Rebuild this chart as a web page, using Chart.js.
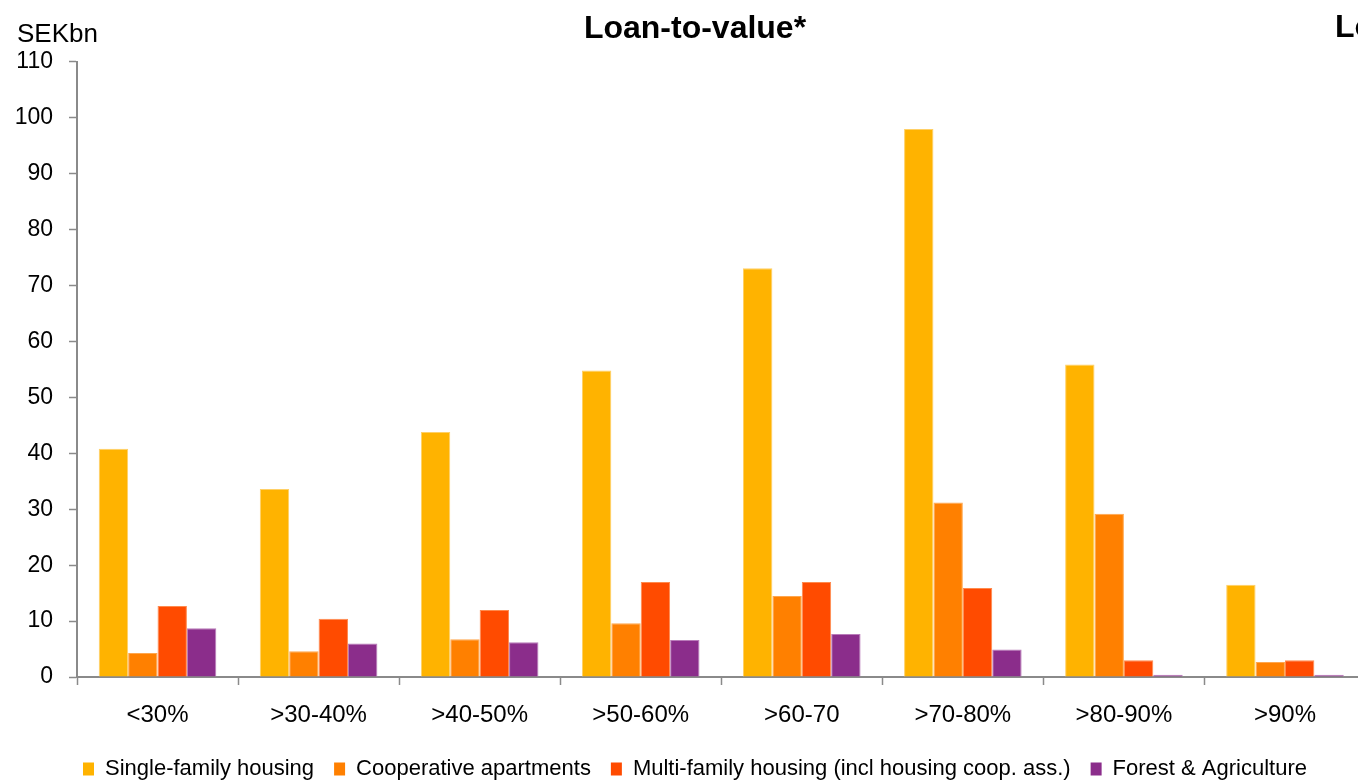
<!DOCTYPE html>
<html>
<head>
<meta charset="utf-8">
<title>Loan-to-value</title>
<script src="https://cdn.jsdelivr.net/npm/chart.js@4"></script>
<style>
  html, body { margin: 0; padding: 0; background: #fff; overflow: hidden; }
  #wrap { position: relative; width: 1390px; height: 781px; }
</style>
</head>
<body>
<div id="wrap"><canvas id="c"></canvas></div>
<script>
// LTV buckets and lending volumes (SEK bn) per segment
const categories = ['<30%', '>30-40%', '>40-50%', '>50-60%', '>60-70', '>70-80%', '>80-90%', '>90%'];
const singleFamily = [40.8, 33.6, 43.8, 54.8, 73.1, 98.0, 55.9, 16.5];
const cooperative  = [4.3, 4.6, 6.75, 9.6, 14.5, 31.2, 29.2, 2.7];
const multiFamily  = [12.7, 10.4, 12.0, 17.0, 17.0, 15.9, 3.0, 3.0];
const forestAgri   = [8.7, 6.0, 6.2, 6.6, 7.7, 4.9, 0.4, 0.4];
const seriesNames  = ['Single-family housing', 'Cooperative apartments',
                      'Multi-family housing (incl housing coop. ass.)', 'Forest & Agriculture'];
const seriesColors = ['#FFB300', '#FF8000', '#FF4B00', '#8B2D8B'];
const seriesEdges  = ['#FFD066', '#FFA64D', '#FF8A4D', '#B97BB9'];
const yTicks = [0, 10, 20, 30, 40, 50, 60, 70, 80, 90, 100, 110];

const FONT = "'Liberation Sans', Arial, sans-serif";
const AXIS_GREY = '#8a8a8a';

// Unit caption above the value axis and the neighbouring panel's heading
const captions = {
  id: 'captions',
  afterDraw(chart) {
    const ctx = chart.ctx;
    ctx.save();
    ctx.fillStyle = '#000';
    ctx.textBaseline = 'middle';
    ctx.textAlign = 'left';
    ctx.font = '26px ' + FONT;
    ctx.fillText('SEKbn', 17, 35);
    ctx.font = 'bold 32px ' + FONT;
    ctx.fillText('Loan-to-value', 1335, 28.5);
    ctx.restore();
  }
};

const series = [singleFamily, cooperative, multiFamily, forestAgri];

new Chart(document.getElementById('c'), {
  type: 'bar',
  data: {
    labels: categories,
    datasets: series.map((vals, i) => ({
      label: seriesNames[i],
      data: vals,
      backgroundColor: seriesColors[i],
      borderColor: seriesEdges[i],
      borderWidth: 1,
      categoryPercentage: 0.73,
      barPercentage: 1.0
    }))
  },
  options: {
    responsive: true,
    maintainAspectRatio: false,
    animation: false,
    layout: { padding: { left: 0, right: 0, top: 0, bottom: -9 } },
    plugins: {
      title: {
        display: true,
        text: 'Loan-to-value*',
        color: '#000',
        font: { family: FONT, size: 32, weight: 'bold' },
        padding: { top: 9.5, bottom: 14 }
      },
      legend: {
        position: 'bottom',
        labels: {
          color: '#000',
          font: { family: FONT, size: 22 },
          boxWidth: 11,
          boxHeight: 13,
          padding: 20,
          generateLabels(chart) {
            return chart.data.datasets.map((ds, i) => ({
              text: ds.label,
              fillStyle: seriesColors[i],
              strokeStyle: seriesColors[i],
              lineWidth: 0,
              fontColor: '#000',
              datasetIndex: i,
              hidden: false
            }));
          }
        }
      },
      tooltip: { enabled: false }
    },
    scales: {
      x: {
        grid: { display: true, drawOnChartArea: false, offset: true, color: AXIS_GREY, tickLength: 8, tickWidth: 1.5 },
        border: { display: true, color: AXIS_GREY, width: 2 },
        ticks: { color: '#000', font: { family: FONT, size: 24 }, padding: 16, maxRotation: 0 },
        afterFit(s) { s.height = 61; }
      },
      y: {
        min: 0,
        max: 110,
        afterBuildTicks(s) { s.ticks = yTicks.map(v => ({ value: v })); },
        grid: { display: true, drawOnChartArea: false, color: AXIS_GREY, tickLength: 8, tickWidth: 1.5 },
        border: { display: true, color: AXIS_GREY, width: 2 },
        ticks: { color: '#000', font: { family: FONT, size: 23 }, padding: 16 },
        afterFit(s) { s.width = 77; }
      },
      // empty right-hand margin between the plot and the next panel
      gutter: {
        type: 'linear',
        position: 'right',
        display: true,
        grid: { display: false },
        border: { display: false },
        ticks: { display: false },
        afterFit(s) { s.width = 24.5; }
      }
    }
  },
  plugins: [captions]
});
</script>
</body>
</html>
